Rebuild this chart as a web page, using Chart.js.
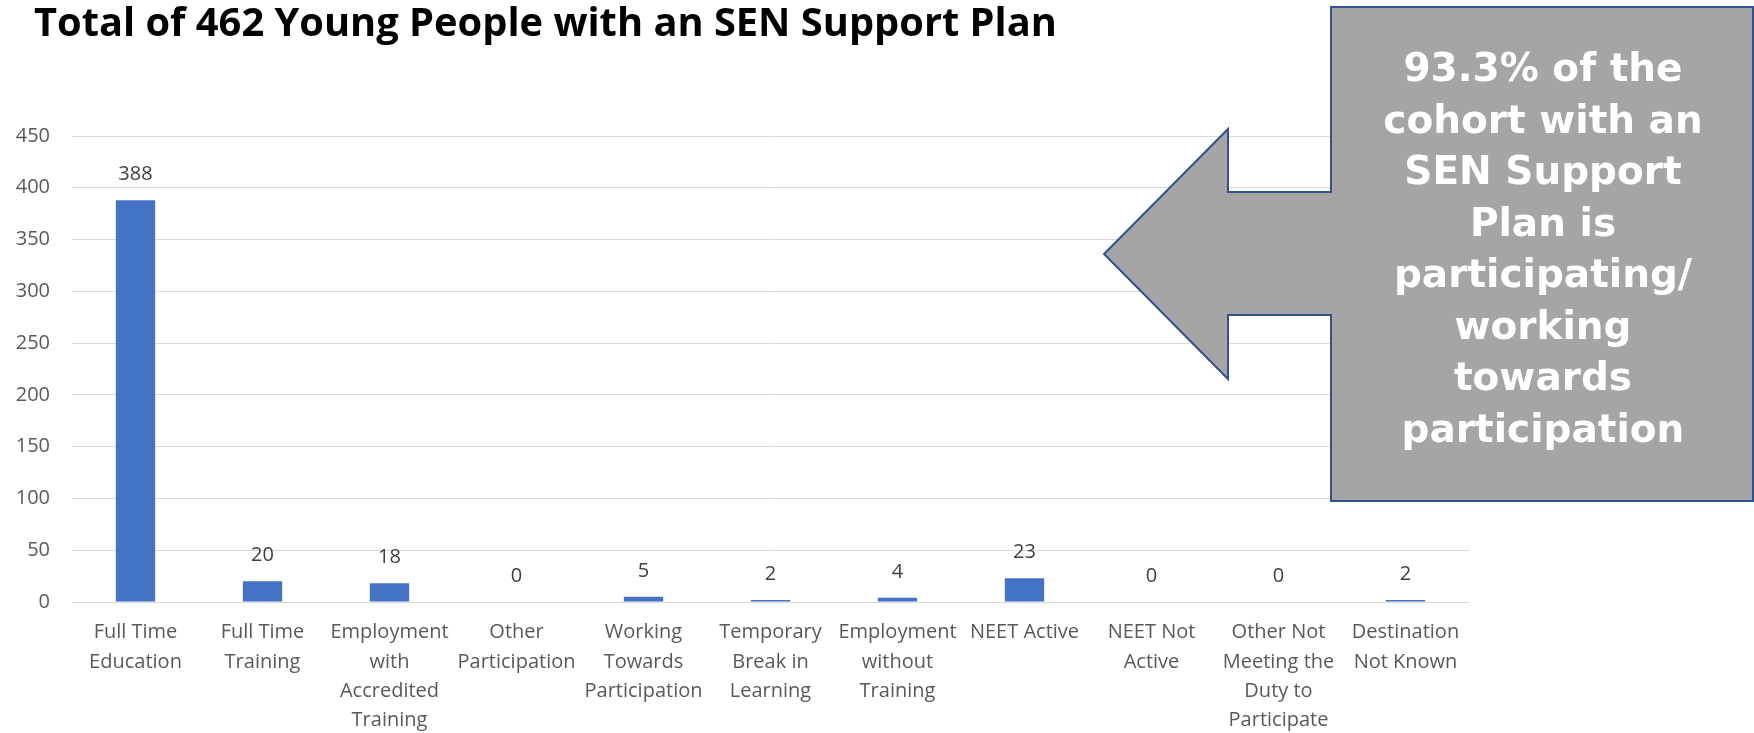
<!DOCTYPE html>
<html>
<head>
<meta charset="utf-8">
<script src="https://cdn.jsdelivr.net/npm/chart.js"></script>
<style>
  html, body { margin: 0; padding: 0; background: #ffffff; }
  #chart-wrap { width: 1754px; height: 733px; }
</style>
</head>
<body>
<div id="chart-wrap"><canvas id="sen-chart" width="1754" height="733"></canvas></div>
<script>
const TITLE = 'Total of 462 Young People with an SEN Support Plan';

const categories = [
  ['Full Time', 'Education'],
  ['Full Time', 'Training'],
  ['Employment', 'with', 'Accredited', 'Training'],
  ['Other', 'Participation'],
  ['Working', 'Towards', 'Participation'],
  ['Temporary', 'Break in', 'Learning'],
  ['Employment', 'without', 'Training'],
  ['NEET Active'],
  ['NEET Not', 'Active'],
  ['Other Not', 'Meeting the', 'Duty to', 'Participate'],
  ['Destination', 'Not Known'],
];

const youngPeople = [388, 20, 18, 0, 5, 2, 4, 23, 0, 0, 2];

const yTicks = [0, 50, 100, 150, 200, 250, 300, 350, 400, 450];

const calloutLines = [
  '93.3% of the',
  'cohort with an',
  'SEN Support',
  'Plan is',
  'participating/',
  'working',
  'towards',
  'participation',
];

const BAR_BLUE = '#4472C4';
const GRID_GREY = '#D9D9D9';
const LABEL_GREY = '#595959';

// title drawn at top left, sized to fill the same width as the original
const titlePlugin = {
  id: 'leftTitle',
  afterDraw(chart) {
    const ctx = chart.ctx;
    ctx.save();
    let size = 36;
    ctx.font = `bold ${size}px "Open Sans"`;
    const w = ctx.measureText(TITLE).width;
    size = size * 1023 / w;
    ctx.font = `bold ${size}px "Open Sans"`;
    ctx.fillStyle = '#000000';
    ctx.textAlign = 'left';
    ctx.textBaseline = 'alphabetic';
    ctx.fillText(TITLE, 34, 36);
    ctx.restore();
  },
};

// value above each bar
const valueLabels = {
  id: 'valueLabels',
  afterDatasetsDraw(chart) {
    const ctx = chart.ctx;
    const meta = chart.getDatasetMeta(0);
    ctx.save();
    ctx.font = '20px "Open Sans"';
    ctx.fillStyle = '#404040';
    ctx.textAlign = 'center';
    ctx.textBaseline = 'middle';
    meta.data.forEach((bar, i) => {
      ctx.fillText(String(youngPeople[i]), bar.x, bar.y - 26);
    });
    ctx.restore();
  },
};

// grey left-arrow callout on the right
const callout = {
  id: 'callout',
  afterDraw(chart) {
    const ctx = chart.ctx;
    const W = chart.width;
    const boxL = W - 423;
    const boxR = W - 1;
    const top = 7;
    const bottom = 501;
    const neckX = boxL - 103;
    const tipX = boxL - 227;
    ctx.save();
    ctx.beginPath();
    ctx.moveTo(boxL, top);
    ctx.lineTo(boxR, top);
    ctx.lineTo(boxR, bottom);
    ctx.lineTo(boxL, bottom);
    ctx.lineTo(boxL, 315);
    ctx.lineTo(neckX, 315);
    ctx.lineTo(neckX, 379);
    ctx.lineTo(tipX, 254);
    ctx.lineTo(neckX, 129);
    ctx.lineTo(neckX, 192);
    ctx.lineTo(boxL, 192);
    ctx.closePath();
    ctx.fillStyle = '#A5A5A5';
    ctx.fill();
    ctx.lineWidth = 2;
    ctx.strokeStyle = '#2F528F';
    ctx.stroke();

    ctx.fillStyle = '#FFFFFF';
    ctx.font = 'bold 39px "DejaVu Sans"';
    ctx.textAlign = 'center';
    ctx.textBaseline = 'middle';
    calloutLines.forEach((line, i) => {
      ctx.fillText(line, boxL + 212, 71 + i * 51.5);
    });
    ctx.restore();
  },
};

const senChart = new Chart(
  document.getElementById('sen-chart'),
  {
    type: 'bar',
    data: {
      labels: categories,
      datasets: [{
        label: 'Young People',
        data: youngPeople,
        backgroundColor: BAR_BLUE,
        categoryPercentage: 1,
        barPercentage: 0.31,
      }],
    },
    options: {
      responsive: false,
      animation: false,
      devicePixelRatio: 1,
      layout: {
        padding: { top: 136, right: 285, bottom: 0, left: 16 },
      },
      plugins: {
        legend: { display: false },
        tooltip: { enabled: false },
        title: { display: false },
      },
      scales: {
        x: {
          afterFit: (scale) => {
            scale.height = 131;
          },
          grid: { display: false, drawTicks: false },
          border: { display: true, color: GRID_GREY, width: 1 },
          ticks: {
            color: LABEL_GREY,
            font: { family: '"Open Sans"', size: 20, lineHeight: 1.46 },
            padding: 16,
            maxRotation: 0,
            minRotation: 0,
            autoSkip: false,
          },
        },
        y: {
          min: 0,
          max: 450,
          afterBuildTicks: (axis) => {
            axis.ticks = yTicks.map((v) => ({ value: v }));
          },
          afterFit: (scale) => {
            scale.width = 56;
          },
          grid: { color: GRID_GREY, lineWidth: 1, drawTicks: false },
          border: { display: false },
          ticks: {
            color: LABEL_GREY,
            font: { family: '"Open Sans"', size: 20 },
            padding: 22,
          },
        },
      },
    },
    plugins: [titlePlugin, valueLabels, callout],
  },
);
</script>
</body>
</html>
